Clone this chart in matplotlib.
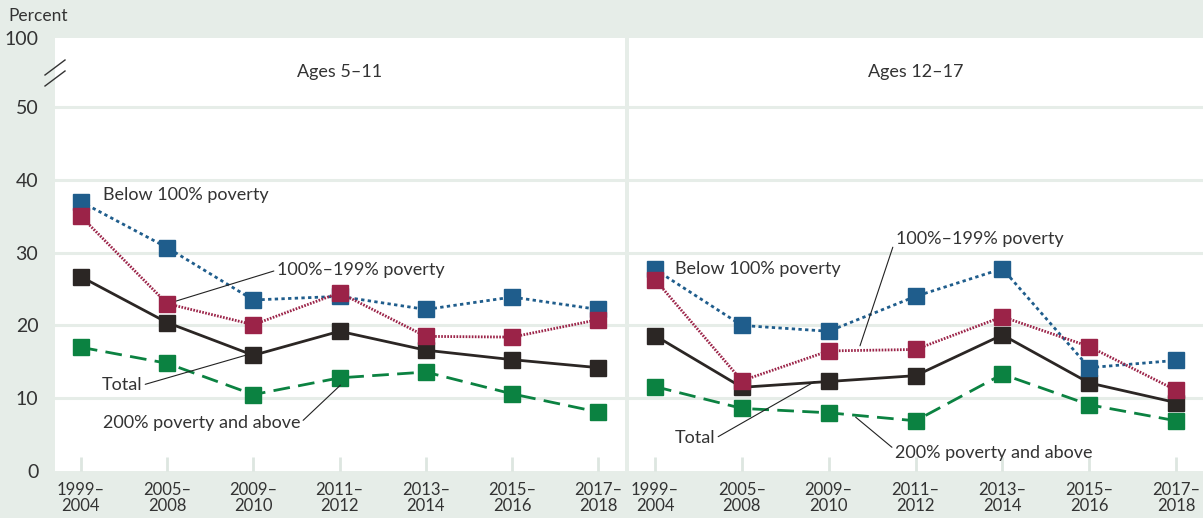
import matplotlib
matplotlib.use("Agg")
import matplotlib.pyplot as plt
from matplotlib.lines import Line2D

plt.rcParams['font.family'] = ['Lato', 'DejaVu Sans']

periods = ["1999–\n2004", "2005–\n2008", "2009–\n2010", "2011–\n2012",
           "2013–\n2014", "2015–\n2016", "2017–\n2018"]
panels = ["Ages 5–11", "Ages 12–17"]

# Ages 5-11
below_5_11 = [37.0, 30.7, 23.5, 24.0, 22.2, 23.9, 22.2]
mid_5_11 = [35.0, 23.0, 20.1, 24.5, 18.5, 18.4, 20.8]
total_5_11 = [26.7, 20.4, 15.9, 19.2, 16.6, 15.3, 14.2]
above_5_11 = [17.0, 14.8, 10.5, 12.8, 13.6, 10.6, 8.1]

# Ages 12-17
below_12_17 = [27.7, 20.0, 19.2, 24.0, 27.8, 14.2, 15.2]
mid_12_17 = [26.3, 12.4, 16.5, 16.7, 21.2, 17.1, 11.1]
total_12_17 = [18.6, 11.5, 12.3, 13.1, 18.7, 12.1, 9.4]
above_12_17 = [11.6, 8.6, 8.0, 6.9, 13.3, 9.1, 6.9]

BG = "#e6ede8"
BLUE = "#1f5d8c"
RED = "#9b2348"
BLACK = "#2b2624"
GREEN = "#0b8241"

fig = plt.figure(figsize=(12.03, 5.18), dpi=100, facecolor=BG)
ax1 = fig.add_axes([55 / 1203, 1 - 471 / 518, 570 / 1203, 433 / 518])
ax2 = fig.add_axes([629 / 1203, 1 - 471 / 518, 574 / 1203, 433 / 518])

series = [
    [below_5_11, mid_5_11, total_5_11, above_5_11],
    [below_12_17, mid_12_17, total_12_17, above_12_17],
]
styles = [
    dict(color=BLUE, ls=(0, (1.2, 1.2)), lw=2.0, zorder=3),
    dict(color=RED, ls=(0, (0.6, 0.5)), lw=2.0, zorder=4),
    dict(color=BLACK, ls="-", lw=2.0, zorder=2),
    dict(color=GREEN, ls=(0, (6, 3)), lw=2.0, zorder=1),
]

x = list(range(len(periods)))
for ax, data, title in zip([ax1, ax2], series, panels):
    ax.set_facecolor("white")
    for y in [10, 20, 30, 40, 50]:
        ax.axhline(y, color=BG, lw=2.2, zorder=0)
    for vals, st in zip(data, styles):
        ax.plot(x, vals, marker="s", ms=12, mec=st["color"], mfc=st["color"],
                color=st["color"], ls=st["ls"], lw=st["lw"], zorder=st["zorder"])
    ax.set_xlim(-0.3, 6.31)
    ax.set_ylim(0, 59.5)
    ax.set_xticks(x)
    ax.set_xticklabels(periods, fontsize=12, color="#333333", linespacing=1.0)
    ax.tick_params(axis="x", direction="in", length=10, width=2, color="#dde6e0", pad=8)
    for s in ax.spines.values():
        s.set_visible(False)
    ax.text(0.5, 54.8, title, transform=ax.get_yaxis_transform(), ha="center",
            va="center", fontsize=13, color="#333333")

ax1.set_yticks([0, 10, 20, 30, 40, 50, 59.5])
ax1.set_yticklabels(["0", "10", "20", "30", "40", "50", "100"], fontsize=14, color="#333333")
ax1.tick_params(axis="y", length=0, pad=12)
ax2.set_yticks([])

# axis break marks
for dy in [0, -11]:
    fig.add_artist(Line2D([45 / 1203, 65 / 1203],
                          [1 - (75 - dy) / 518, 1 - (60 - dy) / 518],
                          color="#333333", lw=1.0))

fig.text(8 / 1203, 1 - 16 / 518, "Percent", fontsize=12.5, color="#333333", va="center")

lab = dict(fontsize=13, color="#333333", va="center")
arr = lambda rp: dict(arrowstyle="-", lw=0.8, color="#222222", shrinkA=0, shrinkB=0, relpos=rp)

ax1.text(0.26, 37.9, "Below 100% poverty", ha="left", **lab)
ax1.annotate("100%–199% poverty", xy=(1.09, 23.3), xytext=(2.27, 27.6),
             ha="left", arrowprops=arr((0, 0.5)), **lab)
ax1.annotate("Total", xy=(1.91, 15.9), xytext=(0.243, 11.8),
             ha="left", arrowprops=arr((1, 0.5)), **lab)
ax1.annotate("200% poverty and above", xy=(3.01, 11.8), xytext=(0.255, 6.6),
             ha="left", arrowprops=arr((1, 0.5)), **lab)

ax2.text(0.23, 27.7, "Below 100% poverty", ha="left", **lab)
ax2.annotate("100%–199% poverty", xy=(2.36, 17.2), xytext=(2.77, 31.9),
             ha="left", arrowprops=arr((0, 0.5)), **lab)
ax2.annotate("Total", xy=(1.84, 12.3), xytext=(0.227, 4.5),
             ha="left", arrowprops=arr((1, 0.5)), **lab)
ax2.annotate("200% poverty and above", xy=(2.31, 7.4), xytext=(2.76, 2.5),
             ha="left", arrowprops=arr((0, 0.7)), **lab)

fig.savefig("out.png", dpi=100, facecolor=BG)
